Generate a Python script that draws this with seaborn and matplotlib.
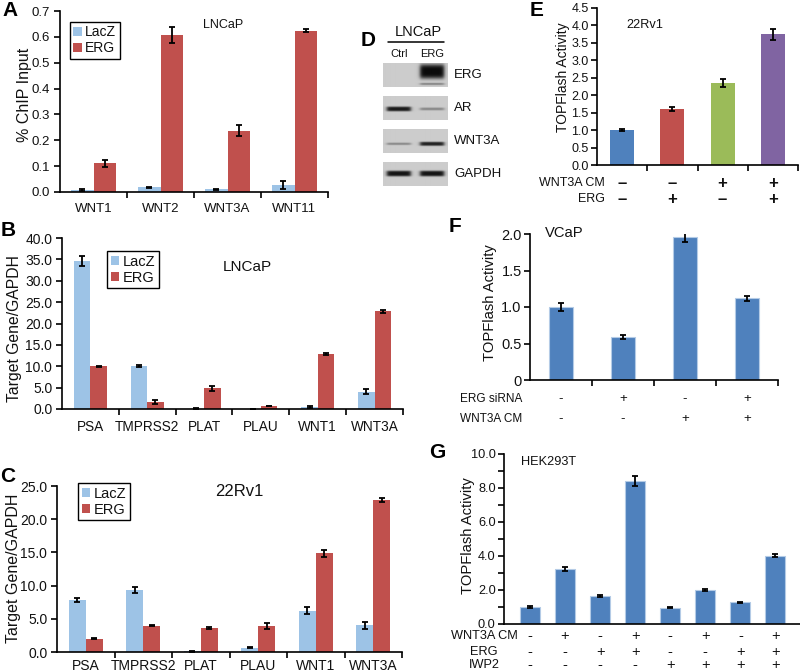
import numpy as np
import pandas as pd
import matplotlib
matplotlib.use("Agg")
import matplotlib.pyplot as plt
import seaborn as sns
from matplotlib.ticker import MultipleLocator, FixedLocator, FuncFormatter

# ---------------- data ----------------
groups = ["LacZ", "ERG"]
group_colors = ["#9DC3E6", "#C0504D"]

a_genes = ["WNT1", "WNT2", "WNT3A", "WNT11"]
a_lacz = [0.008, 0.018, 0.010, 0.026]
a_lacz_err = [0.003, 0.003, 0.002, 0.015]
a_erg = [0.111, 0.607, 0.237, 0.624]
a_erg_err = [0.013, 0.032, 0.021, 0.006]

b_genes = ["PSA", "TMPRSS2", "PLAT", "PLAU", "WNT1", "WNT3A"]
b_lacz = [34.6, 10.0, 0.1, 0.05, 0.55, 4.0]
b_lacz_err = [1.25, 0.2, 0.1, 0.05, 0.2, 0.6]
b_erg = [10.0, 1.65, 4.8, 0.8, 12.85, 22.85]
b_erg_err = [0.15, 0.45, 0.6, 0.0, 0.15, 0.35]

c_genes = ["PSA", "TMPRSS2", "PLAT", "PLAU", "WNT1", "WNT3A"]
c_lacz = [7.85, 9.35, 0.1, 0.65, 6.25, 4.0]
c_lacz_err = [0.35, 0.5, 0.1, 0.1, 0.6, 0.55]
c_erg = [2.0, 3.95, 3.6, 3.9, 14.85, 22.9]
c_erg_err = [0.1, 0.1, 0.1, 0.4, 0.5, 0.3]

blot_rows = ["ERG", "AR", "WNT3A", "GAPDH"]
blot_lanes = ["Ctrl", "ERG"]
blot_intensity = [[0.0, 1.0], [0.92, 0.35], [0.35, 0.88], [0.95, 0.95]]
blot_thickness = [[0.0, 0.62], [0.2, 0.12], [0.1, 0.17], [0.24, 0.24]]
blot_center = [[0.35, 0.35], [0.54, 0.54], [0.62, 0.62], [0.48, 0.48]]

e_cond = ["e1", "e2", "e3", "e4"]
e_wnt3a = ["–", "–", "+", "+"]
e_erg = ["–", "+", "–", "+"]
e_vals = [1.0, 1.61, 2.35, 3.75]
e_err = [0.03, 0.06, 0.12, 0.16]
e_colors = ["#4F81BD", "#C0504D", "#9BBB59", "#8064A2"]

f_cond = ["f1", "f2", "f3", "f4"]
f_erg_sirna = ["-", "+", "-", "+"]
f_wnt3a = ["-", "-", "+", "+"]
f_vals = [1.0, 0.585, 1.955, 1.12]
f_err = [0.055, 0.03, 0.06, 0.035]

g_cond = ["g1", "g2", "g3", "g4", "g5", "g6", "g7", "g8"]
g_wnt3a = ["-", "+", "-", "+", "-", "+", "-", "+"]
g_erg = ["-", "-", "+", "+", "-", "-", "+", "+"]
g_iwp2 = ["-", "-", "-", "-", "+", "+", "+", "+"]
g_vals = [1.0, 3.23, 1.65, 8.43, 0.96, 1.98, 1.27, 4.02]
g_err = [0.04, 0.12, 0.06, 0.3, 0.04, 0.05, 0.05, 0.1]

bar_blue = "#4F81BD"

# ---------------- style ----------------
sns.set_theme(style="ticks")
plt.rcParams['font.family'] = ['Liberation Sans', 'DejaVu Sans']
plt.rcParams.update({
    'axes.linewidth': 1.2, 'axes.edgecolor': 'black',
    'text.color': '#111111', 'axes.labelcolor': '#111111',
    'xtick.color': 'black', 'ytick.color': 'black',
    'xtick.labelcolor': '#111111', 'ytick.labelcolor': '#111111',
    'xtick.major.width': 1.2, 'ytick.major.width': 1.2,
    'xtick.minor.width': 1.2, 'ytick.minor.width': 1.2,
})

W, H = 800, 672
fig = plt.figure(figsize=(W / 100, H / 100), dpi=100)


def rect(x0, y0, x1, y1):
    return [x0 / W, 1 - y1 / H, (x1 - x0) / W, (y1 - y0) / H]


def letter(ch, x, y):
    fig.text(x / W, 1 - y / H, ch, fontsize=15, fontweight='bold',
             ha='center', va='center', color='black')


def add_err(ax, errs_list):
    conts = list(ax.containers)
    for cont, errs in zip(conts, errs_list):
        xs = [b.get_x() + b.get_width() / 2 for b in cont]
        ys = [b.get_height() for b in cont]
        ax.errorbar(xs, ys, yerr=errs, fmt='none', ecolor='black',
                    elinewidth=1.3, capsize=2.3, capthick=1.3, zorder=5)


def grouped(ax, genes, lacz, lacz_err, erg, erg_err, width):
    n = len(genes)
    df = pd.DataFrame({'gene': genes * 2,
                       'group': [groups[0]] * n + [groups[1]] * n,
                       'value': lacz + erg})
    sns.barplot(data=df, x='gene', y='value', hue='group', hue_order=groups,
                palette=group_colors, width=width, gap=0, saturation=1,
                errorbar=None, ax=ax, linewidth=0)
    add_err(ax, [lacz_err, erg_err])
    ax.set_xlim(-0.5, n - 0.5)
    ax.set_xlabel('')
    ax.xaxis.set_minor_locator(FixedLocator(np.arange(0.5, n, 1.0)))
    ax.tick_params(axis='x', which='major', length=0)
    ax.tick_params(axis='x', which='minor', length=4, direction='out')
    ax.tick_params(axis='y', which='major', length=4, direction='out')
    sns.despine(ax=ax)


def legend(ax, x, y, fs):
    h, l = ax.get_legend_handles_labels()
    ax.legend(h[:2], l[:2], loc='upper left', bbox_to_anchor=(x, y),
              fontsize=fs, frameon=True, fancybox=False, edgecolor='black',
              framealpha=1, borderpad=0.25, labelspacing=0.15,
              handlelength=0.6, handleheight=0.6, handletextpad=0.25,
              borderaxespad=0)
    ax.get_legend().get_frame().set_linewidth(1.0)


# ---------------- A ----------------
axA = fig.add_axes(rect(60, 11, 328, 192))
grouped(axA, a_genes, a_lacz, a_lacz_err, a_erg, a_erg_err, 0.66)
axA.set_ylim(0, 0.7)
axA.yaxis.set_major_locator(MultipleLocator(0.1))
axA.yaxis.set_major_formatter(FuncFormatter(lambda v, p: f"{v:.1f}"))
axA.tick_params(axis='y', labelsize=9.5, pad=3)
axA.tick_params(axis='x', labelsize=9.5, pad=8)
axA.set_ylabel('% ChIP Input', fontsize=11.5)
axA.yaxis.set_label_coords(-0.104, 0.536)
axA.text(0.608, 0.923, 'LNCaP', transform=axA.transAxes, fontsize=9,
         ha='center', va='center')
legend(axA, 0.037, 0.94, 10)
letter('A', 10, 11)

# ---------------- B ----------------
axB = fig.add_axes(rect(62, 238, 403, 409))
grouped(axB, b_genes, b_lacz, b_lacz_err, b_erg, b_erg_err, 0.58)
axB.set_ylim(0, 40)
axB.yaxis.set_major_locator(MultipleLocator(5))
axB.yaxis.set_major_formatter(FuncFormatter(lambda v, p: f"{v:.1f}"))
axB.tick_params(axis='y', labelsize=10, pad=3)
axB.tick_params(axis='x', labelsize=9.8, pad=8)
axB.set_ylabel('Target Gene/GAPDH', fontsize=11.3)
axB.yaxis.set_label_coords(-0.116, 0.468)
axB.text(0.543, 0.83, 'LNCaP', transform=axB.transAxes, fontsize=11,
         ha='center', va='center')
legend(axB, 0.132, 0.924, 10.5)
letter('B', 8, 230)

# ---------------- C ----------------
axC = fig.add_axes(rect(57, 486, 402, 652))
grouped(axC, c_genes, c_lacz, c_lacz_err, c_erg, c_erg_err, 0.59)
axC.set_ylim(0, 25)
axC.yaxis.set_major_locator(MultipleLocator(5))
axC.yaxis.set_major_formatter(FuncFormatter(lambda v, p: f"{v:.1f}"))
axC.tick_params(axis='y', labelsize=10, pad=3)
axC.tick_params(axis='x', labelsize=10, pad=5)
axC.set_ylabel('Target Gene/GAPDH', fontsize=11.5)
axC.yaxis.set_label_coords(-0.104, 0.505)
axC.text(0.528, 0.964, '22Rv1', transform=axC.transAxes, fontsize=12,
         ha='center', va='center')
legend(axC, 0.061, 1.018, 10.5)
letter('C', 8, 476)

# ---------------- D (western blot) ----------------
axD = fig.add_axes(rect(379.2, 19, 504.6, 192))
axD.set_xlim(-0.6, 3.2)
axD.set_ylim(3.55, -1.7)
axD.axis('off')
bg = 0.80
xx = np.linspace(-0.47, 1.47, 128)
yy = np.linspace(0, 1, 48)
X, Y = np.meshgrid(xx, yy)
for r, name in enumerate(blot_rows):
    dark = np.zeros(X.shape)
    for li, _ in enumerate(blot_lanes):
        inten = blot_intensity[r][li]
        th = blot_thickness[r][li]
        if inten <= 0:
            continue
        hx = 1 / (1 + np.exp((np.abs(X - li) - 0.36) / 0.03))
        vy = np.exp(-(((Y - blot_center[r][li]) / (th / 2)) ** 4))
        dark = np.maximum(dark, inten * hx * vy)
        if r == 0 and li == 1:
            vy2 = np.exp(-(((Y - 0.88) / 0.04) ** 2))
            dark = np.maximum(dark, 0.45 * hx * vy2)
    img = bg * (1 - dark) + 0.04 * dark
    axD.imshow(img, cmap='gray', vmin=0, vmax=1, interpolation='bilinear',
               extent=[-0.47, 1.47, r + 0.36, r - 0.36], aspect='auto')
    axD.text(1.67, r, name, fontsize=9.5, ha='left', va='center')
for li, lane in enumerate(blot_lanes):
    axD.text(li, -0.64, lane, fontsize=8, ha='center', va='center')
axD.plot([-0.33, 1.36], [-1.0, -1.0], color='black', lw=1.1)
axD.text(0.59, -1.3, 'LNCaP', fontsize=10.5, ha='center', va='center')
axD.set_xlim(-0.6, 3.2)
axD.set_ylim(3.55, -1.7)
letter('D', 368, 40)

# ---------------- E ----------------
axE = fig.add_axes(rect(597, 8, 798, 165))
dfE = pd.DataFrame({'cond': e_cond, 'value': e_vals})
sns.barplot(data=dfE, x='cond', y='value', hue='cond', palette=e_colors,
            legend=False, width=0.48, saturation=1, errorbar=None, ax=axE,
            linewidth=0)
conts = list(axE.containers)
xs = [b.get_x() + b.get_width() / 2 for c in conts for b in c]
ys = [b.get_height() for c in conts for b in c]
axE.errorbar(xs, ys, yerr=e_err, fmt='none', ecolor='black', elinewidth=1.3,
             capsize=2.3, capthick=1.3, zorder=5)
axE.set_xlim(-0.5, 3.5)
axE.set_ylim(0, 4.5)
axE.yaxis.set_major_locator(MultipleLocator(0.5))
axE.yaxis.set_major_formatter(FuncFormatter(lambda v, p: f"{v:.1f}"))
axE.set_xticks(range(4))
axE.set_xticklabels([])
axE.xaxis.set_minor_locator(FixedLocator(np.arange(0.5, 4, 1.0)))
axE.tick_params(axis='x', which='major', length=0)
axE.tick_params(axis='x', which='minor', length=4)
axE.tick_params(axis='y', labelsize=9, length=4, pad=2)
axE.set_xlabel('')
axE.set_ylabel('TOPFlash Activity', fontsize=10)
axE.yaxis.set_label_coords(-0.135, 0.56)
axE.text(0.239, 0.89, '22Rv1', transform=axE.transAxes, fontsize=9.2,
         ha='center', va='center')
sns.despine(ax=axE)
trE = axE.get_xaxis_transform()
for rowy, lab, signs in [(-0.115, 'WNT3A CM', e_wnt3a), (-0.217, 'ERG', e_erg)]:
    axE.text(-0.34, rowy, lab, transform=trE, fontsize=9, ha='right', va='center')
    for i, s in enumerate(signs):
        axE.text(i, rowy, s, transform=trE, fontsize=12, fontweight='bold',
                 ha='center', va='center')
letter('E', 537, 10)

# ---------------- F ----------------
axF = fig.add_axes(rect(530, 234, 778, 380))
dfF = pd.DataFrame({'cond': f_cond, 'value': f_vals})
sns.barplot(data=dfF, x='cond', y='value', color=bar_blue, width=0.4,
            saturation=1, errorbar=None, ax=axF, edgecolor='#B4CBE6',
            linewidth=0.8)
conts = list(axF.containers)
xs = [b.get_x() + b.get_width() / 2 for c in conts for b in c]
ys = [b.get_height() for c in conts for b in c]
axF.errorbar(xs, ys, yerr=f_err, fmt='none', ecolor='black', elinewidth=1.3,
             capsize=2.3, capthick=1.3, zorder=5)
axF.set_xlim(-0.5, 3.5)
axF.set_ylim(0, 2.0)
axF.yaxis.set_major_locator(MultipleLocator(0.5))
axF.yaxis.set_major_formatter(FuncFormatter(lambda v, p: "0" if abs(v) < 1e-9 else f"{v:.1f}"))
axF.set_xticks(range(4))
axF.set_xticklabels([])
axF.xaxis.set_minor_locator(FixedLocator(np.arange(0.5, 4, 1.0)))
axF.tick_params(axis='x', which='major', length=0)
axF.tick_params(axis='x', which='minor', length=4)
axF.tick_params(axis='y', labelsize=10.5, length=4, pad=2)
axF.set_xlabel('')
axF.set_ylabel('TOPFlash Activity', fontsize=10.6)
axF.yaxis.set_label_coords(-0.133, 0.527)
axF.text(0.137, 1.007, 'VCaP', transform=axF.transAxes, fontsize=10.6,
         ha='center', va='center')
sns.despine(ax=axF)
trF = axF.get_xaxis_transform()
for rowy, lab, signs in [(-0.13, 'ERG siRNA', f_erg_sirna), (-0.267, 'WNT3A CM', f_wnt3a)]:
    axF.text(-0.63, rowy, lab, transform=trF, fontsize=8.5, ha='right', va='center')
    for i, s in enumerate(signs):
        axF.text(i, rowy, s, transform=trF, fontsize=9.5, ha='center', va='center')
letter('F', 455, 227)

# ---------------- G ----------------
axG = fig.add_axes(rect(504, 454, 800, 624))
dfG = pd.DataFrame({'cond': g_cond, 'value': g_vals})
sns.barplot(data=dfG, x='cond', y='value', color=bar_blue, width=0.57,
            saturation=1, errorbar=None, ax=axG, edgecolor='#B4CBE6',
            linewidth=0.8)
conts = list(axG.containers)
xs = [b.get_x() + b.get_width() / 2 for c in conts for b in c]
ys = [b.get_height() for c in conts for b in c]
axG.errorbar(xs, ys, yerr=g_err, fmt='none', ecolor='black', elinewidth=1.3,
             capsize=2.3, capthick=1.3, zorder=5)
axG.set_xlim(-0.74, 7.7)
axG.set_ylim(0, 10)
axG.yaxis.set_major_locator(MultipleLocator(2))
axG.yaxis.set_minor_locator(MultipleLocator(1))
axG.yaxis.set_major_formatter(FuncFormatter(lambda v, p: f"{v:.1f}"))
axG.set_xticks(range(8))
axG.set_xticklabels([])
axG.tick_params(axis='x', which='major', length=0)
axG.tick_params(axis='y', which='both', length=4)
axG.tick_params(axis='y', labelsize=9.2, pad=2)
axG.set_xlabel('')
axG.set_ylabel('TOPFlash Activity', fontsize=10.6)
axG.yaxis.set_label_coords(-0.098, 0.52)
axG.text(0.149, 0.953, 'HEK293T', transform=axG.transAxes, fontsize=9.2,
         ha='center', va='center')
sns.despine(ax=axG)
trG = axG.get_xaxis_transform()
for rowy, lab, signs in [(-0.072, 'WNT3A CM', g_wnt3a), (-0.164, 'ERG', g_erg),
                         (-0.24, 'IWP2', g_iwp2)]:
    axG.text(-1.31, rowy, lab, transform=trG, fontsize=9.2, ha='center', va='center')
    for i, s in enumerate(signs):
        axG.text(i, rowy, s, transform=trG, fontsize=10.5, ha='center', va='center')
letter('G', 437, 452)

fig.savefig('out.png', dpi=100)
